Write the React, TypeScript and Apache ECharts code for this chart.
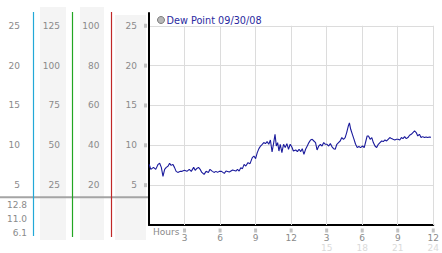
import React, { useEffect, useRef } from 'react';
import * as echarts from 'echarts';

const seriesName = 'Dew Point 09/30/08';

const hours = [
  0.02, 0.15, 0.38, 0.57, 0.77, 0.9, 1.04, 1.18, 1.32, 1.46, 1.6, 1.74, 1.87, 2.01, 2.15, 2.29, 2.43, 2.65, 2.79, 2.99,
  3.2, 3.4, 3.57, 3.77, 3.9, 4.04, 4.18, 4.32, 4.46, 4.65, 4.82, 5.01, 5.15, 5.35, 5.49, 5.65, 5.79, 5.93, 6.12,
  6.36, 6.5, 6.78, 7.06, 7.33, 7.47, 7.61, 7.75, 7.89, 8.03, 8.17, 8.36, 8.53, 8.72, 8.86, 9.0, 9.14, 9.28, 9.42,
  9.56, 9.69, 9.83, 9.97, 10.11, 10.25, 10.39, 10.53, 10.64, 10.75, 10.86, 10.97, 11.08, 11.22, 11.36, 11.5, 11.64,
  11.78, 11.92, 12.06, 12.19,
  12.39, 12.53, 12.67, 12.81, 12.94, 13.08, 13.22, 13.36, 13.5, 13.64, 13.78, 13.92, 14.06, 14.19, 14.33, 14.47,
  14.61, 14.75, 14.89, 15.03, 15.17, 15.31, 15.44, 15.58, 15.72, 15.86, 16.0, 16.14, 16.28, 16.42, 16.56, 16.69,
  16.83, 16.92, 17.03, 17.17, 17.31, 17.44, 17.58, 17.72, 17.86, 18.03, 18.17, 18.31, 18.42,
  18.53, 18.67, 18.81, 18.94, 19.08, 19.22, 19.36, 19.5, 19.64, 19.78, 19.92, 20.06, 20.19, 20.33, 20.47, 20.61,
  20.75, 20.89, 21.03, 21.17, 21.31, 21.44, 21.58, 21.72, 21.86, 22.0, 22.14, 22.28, 22.42, 22.56, 22.69, 22.83,
  22.97, 23.11, 23.25, 23.39, 23.53, 23.67, 23.81,
];

const dewPoint = [
  7.61, 6.98, 7.23, 6.98, 7.61, 7.74, 7.23, 6.1, 6.98, 7.23, 7.36, 7.74, 7.48, 7.61, 7.23, 6.73, 6.6, 6.73, 6.73, 6.86,
  6.73, 6.98, 6.73, 7.23, 6.86, 7.1, 7.23, 6.98, 6.6, 6.35, 6.73, 6.6, 6.98, 6.73, 6.6, 6.73, 6.6, 6.73, 6.73,
  6.48, 6.77, 6.64, 6.89, 6.77, 6.98, 6.77, 7.19, 7.07, 7.61, 7.4, 7.82, 7.7, 8.45, 8.65, 8.33, 9.08, 9.58, 9.91,
  10.13, 10.34, 10.21, 10.47, 10.13, 10.67, 9.16, 10.34, 11.38, 9.91, 10.34, 9.28, 10.13, 9.08, 10.13, 9.71, 10.21,
  9.5, 10.13, 9.79, 9.28,
  9.41, 9.21, 9.5, 9.21, 9.58, 8.87, 9.5, 9.91, 10.34, 10.67, 10.75, 10.54, 10.34, 9.41, 9.91, 10.13,
  9.91, 10.34, 10.13, 10.13, 9.91, 10.21, 9.84, 9.58, 9.5, 10.13, 10.34, 10.54, 10.97, 10.75, 10.97, 11.6,
  12.43, 12.8, 12.01, 11.38, 10.75, 10.13, 9.71, 9.84, 9.71, 9.91, 9.71, 10.54, 11.17,
  11.17, 10.75, 10.97, 10.34, 9.91, 9.71, 10.13, 10.34, 10.54, 10.47, 10.67, 10.54, 10.75, 10.97, 10.84, 10.75,
  10.67, 10.75, 10.75, 10.67, 10.97, 10.84, 11.09, 10.84, 10.97, 11.26, 11.38, 11.6, 11.8, 11.6, 11.17, 11.38,
  10.97, 11.09, 10.97, 11.04, 10.97, 11.04, 11.0,
];

const xGridHours = [3, 6, 9, 12, 15, 18, 21, 24];
const xTickLabels = ['3', '6', '9', '12', '3', '6', '9', '12'];
const xTickLabels24 = ['', '', '', '', '15', '18', '21', '24'];

const FONT = 'DejaVu Sans';
const GREY = '#8a8a8a';

export default function App() {
  const ref = useRef<HTMLDivElement>(null);

  useEffect(() => {
    const chart = echarts.init(ref.current!, null, { renderer: 'svg' });
    const maxV = Math.max(...dewPoint);
    const minV = Math.min(...dewPoint);
    const lastV = dewPoint[dewPoint.length - 1];
    const glyph = { width: 3, height: 4, backgroundColor: '#c2c2c2' };

    const sideAxis = (offset: number, max: number, interval: number, top: number) => ({
      type: 'value',
      position: 'left',
      offset,
      min: 0,
      max,
      interval,
      axisLine: { show: false },
      axisTick: { show: false },
      splitLine: { show: false },
      axisLabel: {
        margin: 0,
        color: GREY,
        fontSize: 9,
        fontFamily: FONT,
        formatter: (v: number) => (v > 0 && v <= top ? String(v) : ''),
      },
    });

    const option: any = {
      animation: false,
      backgroundColor: '#ffffff',
      textStyle: { fontFamily: FONT },
      grid: { left: 149, top: 13, right: 4, bottom: 28 },
      legend: {
        left: 157,
        top: 15,
        padding: 0,
        icon: 'circle',
        itemWidth: 7,
        itemHeight: 7,
        selectedMode: false,
        data: [
          {
            name: seriesName,
            itemStyle: { color: '#b8b8b8', borderColor: '#7c7c7c', borderWidth: 1 },
          },
        ],
        textStyle: { color: '#2a2aa0', fontSize: 9.7, fontFamily: FONT, padding: [0, 0, 0, -3] },
      },
      xAxis: {
        type: 'value',
        min: 0,
        max: 24,
        interval: 3,
        axisLine: { lineStyle: { color: '#000', width: 2 } },
        axisTick: { show: false },
        splitLine: { show: false },
        axisLabel: {
          margin: 3,
          showMinLabel: false,
          formatter: (v: number) => {
            if (v === 0) return '';
            const i = Math.round(v / 3) - 1;
            let s = `{g| }\n{v|${xTickLabels[i]}}`;
            if (xTickLabels24[i]) s += `\n{f|${xTickLabels24[i]}}`;
            return s;
          },
          rich: {
            g: { ...glyph, lineHeight: 5 },
            v: { color: GREY, fontSize: 9, fontFamily: FONT, lineHeight: 10 },
            f: { color: '#dadada', fontSize: 9, fontFamily: FONT, lineHeight: 9 },
          },
        },
      },
      yAxis: [
        {
          type: 'value',
          min: 0,
          max: 26.6,
          interval: 5,
          axisLine: { show: true, lineStyle: { color: '#000', width: 2 } },
          axisTick: { show: false },
          splitLine: {
            show: true,
            showMinLine: false,
            showMaxLine: false,
            lineStyle: { color: '#dcdcdc', width: 1 },
          },
          axisLabel: {
            margin: 2,
            formatter: (v: number) => (v > 0 && v <= 25 ? `{v|${v}}{g| }` : ''),
            rich: {
              v: { color: GREY, fontSize: 9, fontFamily: FONT, padding: [0, 7, 0, 0] },
              g: glyph,
            },
          },
        },
        sideAxis(129, 26.6, 5, 25),
        sideAxis(89, 133, 25, 125),
        sideAxis(49.5, 106.4, 20, 100),
      ],
      series: [
        {
          type: 'line',
          name: seriesName,
          data: hours.map((h, i) => [h, dewPoint[i]]),
          showSymbol: false,
          z: 3,
          lineStyle: { color: '#1a1a9c', width: 1.1 },
          itemStyle: { color: '#1a1a9c' },
          markLine: {
            silent: true,
            z: 1,
            symbol: 'none',
            label: { show: false },
            lineStyle: { color: '#dcdcdc', type: 'solid', width: 1 },
            data: xGridHours.map((h) => [{ coord: [h, 0] }, { coord: [h, 25] }]),
          },
        },
      ],
      graphic: [
        { type: 'rect', z: -1, shape: { x: 40, y: 7, width: 26, height: 233 }, style: { fill: '#f4f4f4' } },
        { type: 'rect', z: -1, shape: { x: 80, y: 7, width: 24, height: 233 }, style: { fill: '#f4f4f4' } },
        { type: 'rect', z: -1, shape: { x: 115, y: 15, width: 31, height: 225 }, style: { fill: '#f4f4f4' } },
        { type: 'line', shape: { x1: 0, y1: 197.3, x2: 149, y2: 197.3 }, style: { stroke: '#a4a4a4', lineWidth: 2 } },
        { type: 'line', shape: { x1: 33.5, y1: 12, x2: 33.5, y2: 236 }, style: { stroke: '#22a8d8', lineWidth: 1.2 } },
        { type: 'line', shape: { x1: 72.5, y1: 12, x2: 72.5, y2: 237 }, style: { stroke: '#22a622', lineWidth: 1.2 } },
        { type: 'line', shape: { x1: 111.5, y1: 12, x2: 111.5, y2: 237 }, style: { stroke: '#c02828', lineWidth: 1.2 } },
        {
          type: 'text', x: 27, y: 204.5,
          style: { text: maxV.toFixed(1), fill: GREY, fontSize: 9, fontFamily: FONT, align: 'right', verticalAlign: 'middle' },
        },
        {
          type: 'text', x: 27, y: 219,
          style: { text: lastV.toFixed(1), fill: GREY, fontSize: 9, fontFamily: FONT, align: 'right', verticalAlign: 'middle' },
        },
        {
          type: 'text', x: 27, y: 233,
          style: { text: minV.toFixed(1), fill: GREY, fontSize: 9, fontFamily: FONT, align: 'right', verticalAlign: 'middle' },
        },
        {
          type: 'text', x: 153, y: 232,
          style: { text: 'Hours', fill: GREY, fontSize: 9, fontFamily: FONT, align: 'left', verticalAlign: 'middle' },
        },
      ],
    };

    chart.setOption(option);
    return () => chart.dispose();
  }, []);

  return (
    <div
      ref={ref}
      style={{ position: 'absolute', left: 0, top: 0, width: 442, height: 253 }}
    />
  );
}
